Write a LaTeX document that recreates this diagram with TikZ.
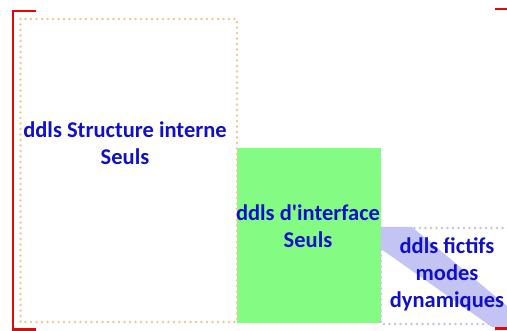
\documentclass[tikz,border=0pt]{standalone}
\usepackage{fontspec}
\setmainfont{Carlito}
\definecolor{txtblue}{HTML}{1010C8}
\definecolor{boxgreen}{HTML}{84FC84}
\definecolor{bandblue}{HTML}{C4C4F4}
\definecolor{dotorange}{HTML}{F0C890}
\definecolor{dotgrey}{HTML}{C4C4DC}
\definecolor{bracketred}{HTML}{E00808}
\tikzset{
  lbl/.style={text=txtblue, font=\fontsize{22.5}{27}\selectfont\bfseries, align=center, inner sep=0pt},
  dotbox/.style={line width=2.8pt, line cap=round, dash pattern=on 0pt off 5.5pt},
  bracket/.style={draw=bracketred, line width=2.6pt}
}
\begin{document}
\begin{tikzpicture}[x=1pt,y=-1pt]
\useasboundingbox (0,0) rectangle (507,331);
% green interface box
\fill[boxgreen] (237,148) rectangle (381,323);
% grey dotted box of fictitious dofs (clipped at right)
\begin{scope}
\clip (0,0) rectangle (507,331);
\draw[dotbox, draw=dotgrey] (381,228) rectangle (530,324);
\end{scope}
% diagonal band
\fill[bandblue] (381,227) -- (412,227) -- (507,306) -- (507,327) -- (492,327) -- (381,249) -- cycle;
% orange dotted internal box
\draw[dotbox, draw=dotorange] (20.5,19) rectangle (237,322);
% red brackets
\draw[bracket] (36,11) -- (13,11) -- (13,329.5) -- (36,329.5);
\draw[bracket] (495,9) -- (507,9);
\draw[bracket] (495,328.5) -- (507,328.5);
% labels
\node[lbl] (interne) at (125,143.5) {ddls Structure interne\\Seuls};
\node[lbl] (interface) at (308,226.5) {ddls d\textquotesingle interface\\Seuls};
\node[lbl] (fictifs) at (447,274) {ddls fictifs\\modes\\dynamiques};
\end{tikzpicture}
\end{document}
